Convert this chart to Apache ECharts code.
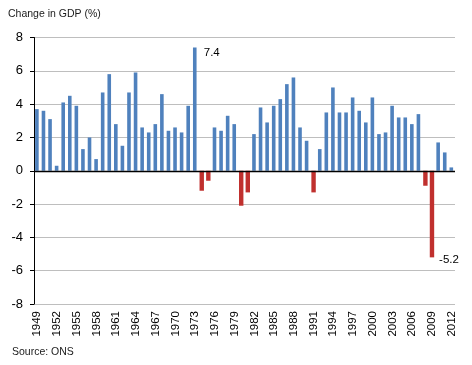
<!DOCTYPE html>
<html>
<head>
<meta charset="utf-8">
<script src="https://cdn.jsdelivr.net/npm/echarts@6/dist/echarts.min.js"></script>
<style>
html,body{margin:0;padding:0;background:#fff;}
#chart{width:472px;height:365px;}
</style>
</head>
<body>
<div id="chart"></div>
<script>
var years = [];
for (var y = 1949; y <= 2012; y++) years.push(String(y));

var gdpChange = [
  3.7, 3.6, 3.1, 0.3, 4.1, 4.5, 3.9, 1.3, 2.0, 0.7,
  4.7, 5.8, 2.8, 1.5, 4.7, 5.9, 2.6, 2.3, 2.8, 4.6,
  2.4, 2.6, 2.3, 3.9, 7.4, -1.2, -0.6, 2.6, 2.4, 3.3,
  2.8, -2.1, -1.3, 2.2, 3.8, 2.9, 3.9, 4.3, 5.2, 5.6,
  2.6, 1.8, -1.3, 1.3, 3.5, 5.0, 3.5, 3.5, 4.4, 3.6,
  2.9, 4.4, 2.2, 2.3, 3.9, 3.2, 3.2, 2.8, 3.4, -0.9,
  -5.2, 1.7, 1.1, 0.2
];

var yTicks = { min: -8, max: 8, interval: 2 };
var labelledYears = ['1973', '2009'];
var titleText = 'Change in GDP (%)';
var sourceText = 'Source: ONS';

var posData = gdpChange.map(function (v, i) {
  if (v < 0) return '-';
  if (labelledYears.indexOf(years[i]) >= 0) {
    return { value: v, label: { show: true, position: 'top', distance: 0, offset: [17, 11], formatter: function (p) { return p.value.toFixed(1); } } };
  }
  return v;
});
var negData = gdpChange.map(function (v, i) {
  if (v >= 0) return '-';
  if (labelledYears.indexOf(years[i]) >= 0) {
    return { value: v, label: { show: true, position: 'bottom', distance: 0, offset: [17, -4], formatter: function (p) { return p.value.toFixed(1); } } };
  }
  return v;
});

var chart = echarts.init(document.getElementById('chart'), null, { renderer: 'canvas' });
var font = 'Arial, "Liberation Sans", sans-serif';
chart.setOption({
  animation: false,
  textStyle: { fontFamily: font },
  graphic: [
    { type: 'text', left: 8, top: 9, style: { text: titleText, font: '10.5px ' + font, fill: '#1a1a1a' } },
    { type: 'text', left: 12, top: 347, style: { text: sourceText, font: '10.5px ' + font, fill: '#1a1a1a' } }
  ],
  grid: { left: 34, right: 17, top: 37.5, bottom: 61, containLabel: false },
  xAxis: {
    type: 'category',
    data: years,
    boundaryGap: true,
    axisLine: { show: false, onZero: false },
    axisTick: { show: false },
    axisLabel: { interval: 2, rotate: 90, margin: 7, fontSize: 11.5, color: '#000', fontFamily: font }
  },
  yAxis: {
    type: 'value',
    min: yTicks.min, max: yTicks.max, interval: yTicks.interval,
    axisLine: { show: true, lineStyle: { color: '#000', width: 1 } },
    axisTick: { show: true, length: 4, lineStyle: { color: '#000' } },
    axisLabel: { fontSize: 13, color: '#000', margin: 11, fontFamily: font },
    splitLine: { show: true, lineStyle: { color: '#BEBEBE', width: 1 } }
  },
  series: [
    {
      type: 'bar',
      data: posData,
      barWidth: 3.6,
      barGap: '-100%',
      itemStyle: { color: '#4F81BD' },
      label: { color: '#000', fontSize: 11.5, fontFamily: font },
      markLine: {
        silent: true,
        symbol: 'none',
        label: { show: false },
        lineStyle: { color: '#000', type: 'solid', width: 1.3 },
        data: [{ yAxis: 0 }]
      },
      z: 2
    },
    {
      type: 'bar',
      data: negData,
      barWidth: 4.4,
      barGap: '-100%',
      itemStyle: { color: '#C0302E' },
      label: { color: '#000', fontSize: 11.5, fontFamily: font },
      z: 2
    }
  ]
});
</script>
</body>
</html>
